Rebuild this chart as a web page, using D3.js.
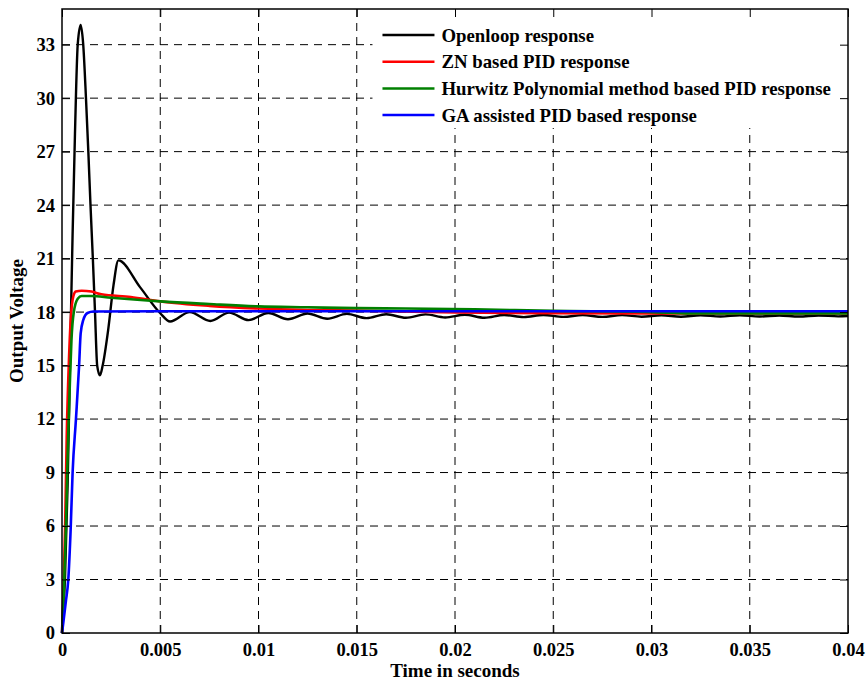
<!DOCTYPE html>
<html>
<head>
<meta charset="utf-8">
<script src="https://cdn.jsdelivr.net/npm/d3@7"></script>
<style>
    body { margin: 0; background: #fff; }
    svg text { font-family: 'Liberation Serif', 'Times New Roman', serif; font-weight: bold; }
</style>
</head>
<body>
<div id="chart"></div>
<script>
// Data: [time (s), output voltage]
const openloopData = [
    [0, 0], [0.00015, 3], [0.00029, 8.5], [0.00044, 17], [0.00054, 22.4], [0.00066, 28],
    [0.0008, 33], [0.00095, 34.1], [0.00108, 33], [0.00122, 30], [0.00134, 27],
    [0.00145, 24], [0.00157, 21], [0.00168, 18], [0.00179, 15], [0.00193, 14.45],
    [0.00207, 15], [0.00235, 17], [0.00262, 19.5], [0.00287, 20.9],
    [0.00397, 19.4], [0.00499, 17.95], [0.0055, 17.47],
    [0.0065, 18.0], [0.00755, 17.5], [0.0085, 17.97], [0.0095, 17.55], [0.0105, 17.95],
    [0.0115, 17.6], [0.0125, 17.92], [0.0135, 17.63], [0.0145, 17.9], [0.0155, 17.66],
    [0.0165, 17.88], [0.0175, 17.68], [0.0185, 17.87], [0.0195, 17.7], [0.0205, 17.85],
    [0.0215, 17.68], [0.0225, 17.84], [0.0235, 17.72], [0.0245, 17.84], [0.0255, 17.73],
    [0.0265, 17.83], [0.0275, 17.73], [0.0285, 17.83], [0.0295, 17.74], [0.0305, 17.82],
    [0.0315, 17.74], [0.0325, 17.82], [0.0335, 17.75], [0.0345, 17.82], [0.0355, 17.75],
    [0.0365, 17.81], [0.0375, 17.75], [0.0385, 17.81], [0.0395, 17.76], [0.04, 17.78]
];

const znData = [
    [0, 0], [0.00008, 2.5], [0.00016, 6], [0.00024, 11], [0.00036, 15.5], [0.00044, 17.5],
    [0.00058, 18.9], [0.0007, 19.15], [0.001, 19.2], [0.0015, 19.15], [0.002, 19.0],
    [0.0035, 18.85], [0.005, 18.6], [0.0075, 18.35], [0.01, 18.2], [0.0125, 18.12],
    [0.015, 18.08], [0.02, 17.98], [0.025, 17.94], [0.03, 17.93], [0.04, 17.93]
];

const hurwitzData = [
    [0, 0], [0.0001, 2.5], [0.0002, 6], [0.0003, 10.5], [0.0004, 14], [0.00048, 16.4],
    [0.0006, 18.0], [0.0008, 18.75], [0.001, 18.9], [0.0015, 18.9], [0.0025, 18.8],
    [0.0035, 18.72], [0.005, 18.6], [0.0075, 18.45], [0.01, 18.32], [0.0125, 18.27],
    [0.015, 18.22], [0.0175, 18.2], [0.021, 18.15], [0.025, 18.07], [0.03, 18.0],
    [0.032, 17.93], [0.04, 17.93]
];

const gaData = [
    [0, 0], [0.00008, 0.7], [0.0002, 1.8], [0.00032, 3], [0.00044, 5.8], [0.00054, 9],
    [0.00071, 12], [0.00087, 15], [0.00095, 16.8], [0.00108, 17.55], [0.0013, 17.95],
    [0.0016, 18.03], [0.005, 18.05], [0.04, 18.05]
];

const seriesNames = [
    'Openloop response',
    'ZN based PID response',
    'Hurwitz Polynomial method based PID response',
    'GA assisted PID based response'
];
const seriesColors = ['#000000', '#ff0000', '#008000', '#0000ff'];

const xTicks = [0, 0.005, 0.01, 0.015, 0.02, 0.025, 0.03, 0.035, 0.04];
const xTickLabels = ['0', '0.005', '0.01', '0.015', '0.02', '0.025', '0.03', '0.035', '0.04'];
const yTicks = [0, 3, 6, 9, 12, 15, 18, 21, 24, 27, 30, 33];

const width = 867;
const height = 682;
const margin = { top: 9, right: 19, bottom: 49, left: 62 };
const plotWidth = width - margin.left - margin.right;
const plotHeight = height - margin.top - margin.bottom;

const svg = d3.select('#chart')
    .append('svg')
    .attr('width', width)
    .attr('height', height);

const g = svg.append('g')
    .attr('transform', `translate(${margin.left},${margin.top})`);

const x = d3.scaleLinear().domain([0, 0.04]).range([0, plotWidth]);
const y = d3.scaleLinear().domain([0, 35]).range([plotHeight, 0]);

// Dashed grid
g.append('g')
    .selectAll('line')
    .data(xTicks.slice(1, -1))
    .enter().append('line')
    .attr('x1', d => x(d)).attr('x2', d => x(d))
    .attr('y1', 0).attr('y2', plotHeight)
    .attr('stroke', '#000')
    .attr('stroke-width', 1)
    .attr('stroke-dasharray', '8,6');

g.append('g')
    .selectAll('line')
    .data(yTicks.slice(1))
    .enter().append('line')
    .attr('x1', 0).attr('x2', plotWidth)
    .attr('y1', d => y(d)).attr('y2', d => y(d))
    .attr('stroke', '#000')
    .attr('stroke-width', 1)
    .attr('stroke-dasharray', '8,6');

// Response curves
const line = d3.line()
    .x(d => x(d[0]))
    .y(d => y(d[1]))
    .curve(d3.curveMonotoneX);

const allSeries = [openloopData, znData, hurwitzData, gaData];
const widths = [2.4, 2.6, 2.6, 2.6];

allSeries.forEach((data, i) => {
    g.append('path')
        .datum(data)
        .attr('fill', 'none')
        .attr('stroke', seriesColors[i])
        .attr('stroke-width', widths[i])
        .attr('stroke-linejoin', 'round')
        .attr('d', line);
});

// Legend (white box covering the grid, no border)
const legend = g.append('g')
    .attr('transform', `translate(${x(0.0158)},0)`);

legend.append('rect')
    .attr('x', 0)
    .attr('y', 0)
    .attr('width', plotWidth - x(0.0158))
    .attr('height', 119)
    .attr('fill', '#fff');

seriesNames.forEach((name, i) => {
    const rowY = 26 + i * 26.7;
    legend.append('line')
        .attr('x1', 10).attr('x2', 62)
        .attr('y1', rowY).attr('y2', rowY)
        .attr('stroke', seriesColors[i])
        .attr('stroke-width', 2.5);
    legend.append('text')
        .attr('x', 69)
        .attr('y', rowY + 6.5)
        .attr('font-size', '18.8px')
        .attr('fill', '#000')
        .text(name);
});

// Axes: ticks pointing inward on all four sides
const xAxis = g.append('g')
    .attr('transform', `translate(0,${plotHeight})`)
    .call(d3.axisBottom(x).tickValues(xTicks).tickFormat((d, i) => xTickLabels[i]).tickSizeInner(-8).tickSizeOuter(0).tickPadding(10));

const yAxis = g.append('g')
    .call(d3.axisLeft(y).tickValues(yTicks).tickSizeInner(-8).tickSizeOuter(0).tickPadding(7));

g.append('g')
    .call(d3.axisTop(x).tickValues(xTicks).tickFormat('').tickSizeInner(-8).tickSizeOuter(0));

g.append('g')
    .attr('transform', `translate(${plotWidth},0)`)
    .call(d3.axisRight(y).tickValues(yTicks).tickFormat('').tickSizeInner(-8).tickSizeOuter(0));

[xAxis, yAxis].forEach(a => a.selectAll('text')
    .attr('font-family', "'Liberation Serif', serif")
    .attr('font-weight', 'bold')
    .attr('font-size', '18.5px')
    .attr('fill', '#000'));

g.selectAll('.domain').remove();
g.selectAll('.tick line').attr('stroke', '#000');

// Plot frame
g.append('rect')
    .attr('width', plotWidth)
    .attr('height', plotHeight)
    .attr('fill', 'none')
    .attr('stroke', '#000')
    .attr('stroke-width', 1.5);

// Axis titles
svg.append('text')
    .attr('x', margin.left + plotWidth / 2)
    .attr('y', height - 5)
    .attr('text-anchor', 'middle')
    .attr('font-size', '19px')
    .text('Time in seconds');

svg.append('text')
    .attr('transform', `translate(23,${margin.top + plotHeight / 2}) rotate(-90)`)
    .attr('text-anchor', 'middle')
    .attr('font-size', '19px')
    .text('Output Voltage');
</script>
</body>
</html>
